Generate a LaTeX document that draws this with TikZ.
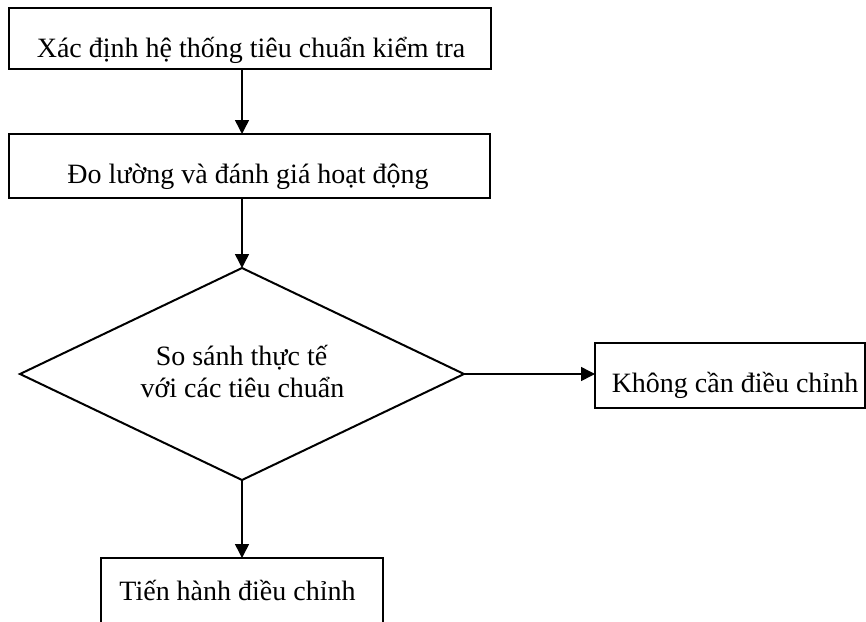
\documentclass[tikz,border=0pt]{standalone}
\usepackage{fontspec}
\setmainfont{Liberation Serif}
\usetikzlibrary{arrows.meta,shapes.geometric}
\begin{document}
\begin{tikzpicture}[x=1pt,y=-1pt,
  box/.style={draw, line width=2pt, rectangle, inner sep=0pt, outer sep=0pt},
  decision/.style={draw, line width=2pt, diamond, inner sep=0pt, outer sep=0pt},
  label/.style={anchor=base, inner sep=0pt, font=\fontsize{28}{32}\selectfont},
  arr/.style={line width=1.5pt, -{Triangle[length=14pt,width=14pt]}}]
\useasboundingbox (0,0) rectangle (866,621);
\clip (0,0) rectangle (866,621);

% boxes
\node[box, minimum width=482pt, minimum height=61pt] (define) at (250,38.5) {};
\node[box, minimum width=481pt, minimum height=64pt] (measure) at (249.5,166) {};
\node[decision, minimum width=444pt, minimum height=212pt] (compare) at (242,374) {};
\node[box, minimum width=270pt, minimum height=65pt] (nochange) at (730,375.5) {};
\node[box, minimum width=282pt, minimum height=90pt] (adjust) at (242,603) {};

% texts, cut off at the bottom by the text area of their boxes
\begin{scope}
  \clip (define.north west) rectangle ([yshift=-5pt]define.south east);
  \node[label] (t1) at (251,57.5) {Xác định hệ thống tiêu chuẩn kiểm tra};
\end{scope}
\begin{scope}
  \clip (measure.north west) rectangle ([yshift=-5pt]measure.south east);
  \node[label] (t2) at (248,183) {Đo lường và đánh giá hoạt động};
\end{scope}
\node[label] (t3a) at (241.5,365) {So sánh thực tế};
\node[label] (t3b) at (242.5,397) {với các tiêu chuẩn};
\node[label] (t4) at (735,392.5) {Không cần điều chỉnh};
\node[label] (t5) at (237.5,600) {Tiến hành điều chỉnh};

% connectors
\draw[arr] (define.south -| compare.north) -- (measure.north -| compare.north);
\draw[arr] (measure.south -| compare.north) -- (compare.north);
\draw[arr] (compare.east) -- (compare.east -| nochange.west);
\draw[arr] (compare.south) -- (adjust.north);
\end{tikzpicture}
\end{document}
